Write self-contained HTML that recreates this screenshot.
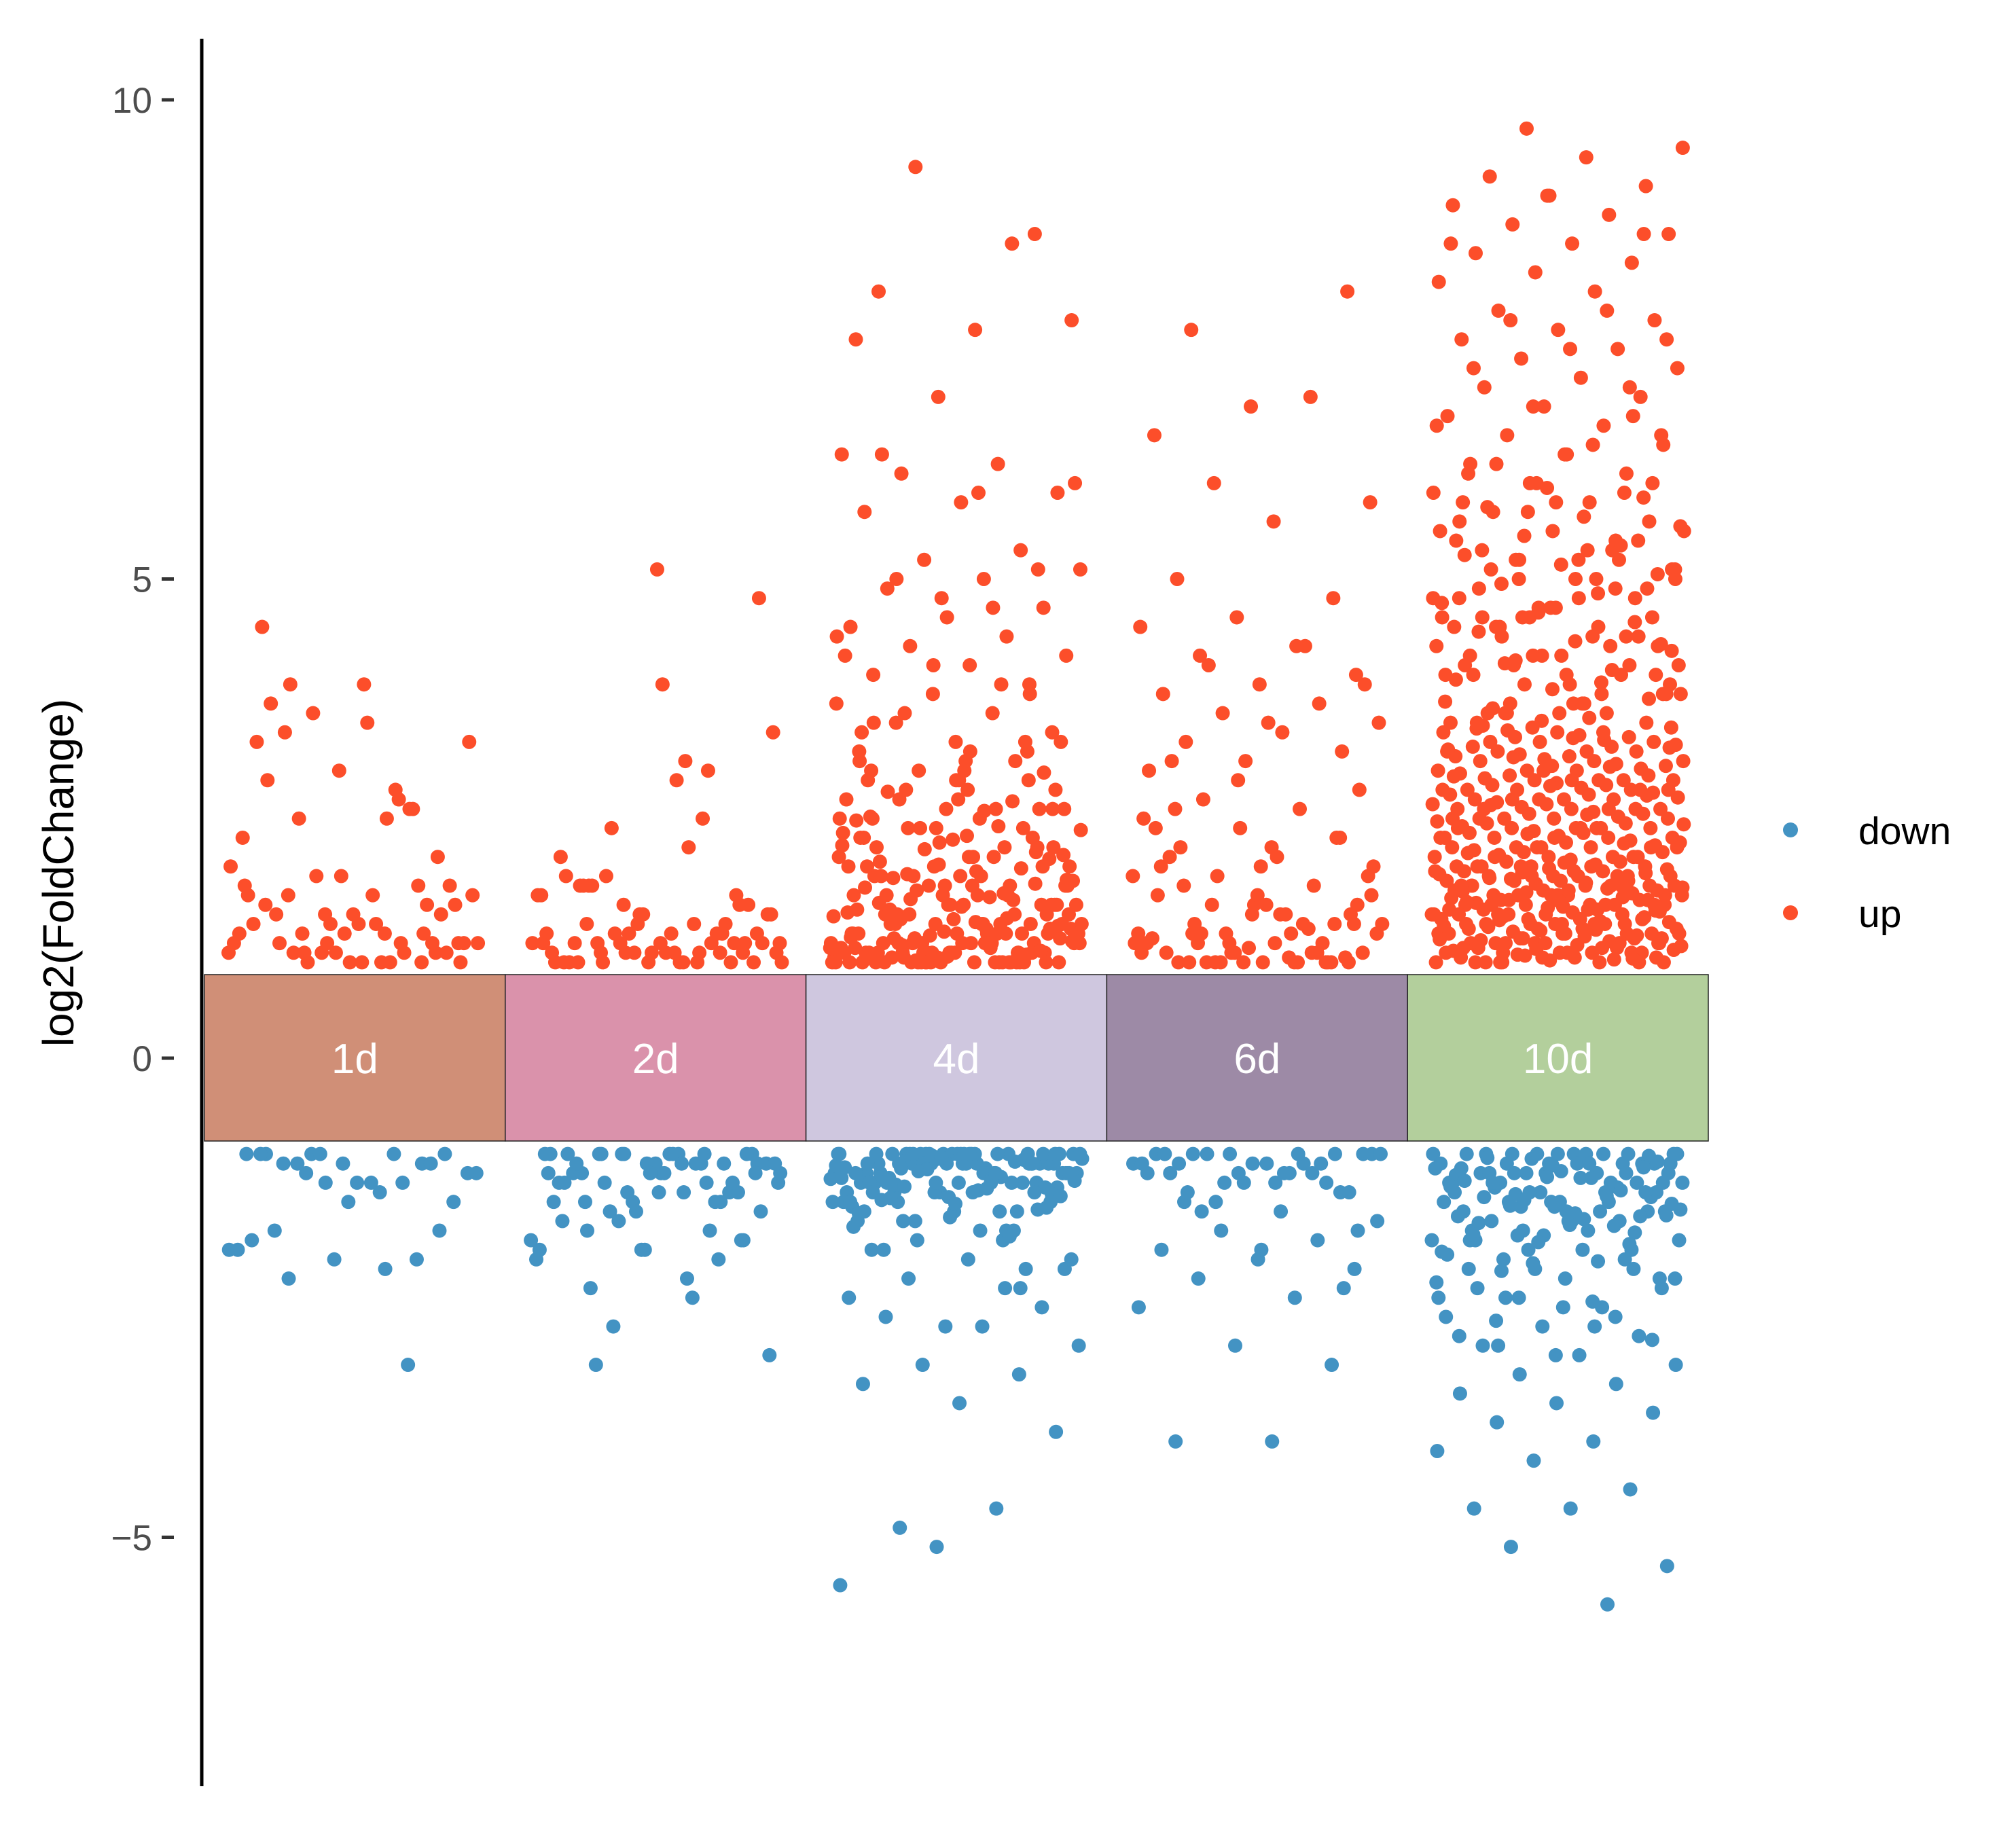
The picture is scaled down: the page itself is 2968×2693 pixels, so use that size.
<!DOCTYPE html>
<html><head><meta charset="utf-8"><style>
html,body{margin:0;padding:0;background:#fff;}
svg{display:block;font-family:"Liberation Sans",Arial,sans-serif;}
</style></head><body>
<svg id="chart" width="2968" height="2693" viewBox="0 0 2968 2693" xmlns="http://www.w3.org/2000/svg">
<rect width="2968" height="2693" fill="#fff"/>
<g id="points"></g>
<g id="boxes"></g>
<g id="axis"></g>
<text transform="translate(108,1285) rotate(-90)" text-anchor="middle" font-size="64" fill="#000">log2(FoldChange)</text>
<g>
<circle cx="2636" cy="1222" r="11" fill="#4393C3"/>
<text x="2736" y="1243" font-size="57" fill="#000">down</text>
<circle cx="2636" cy="1344" r="11" fill="#FC4E2A"/>
<text x="2736" y="1365" font-size="57" fill="#000">up</text>
</g>
</svg>
<script>
const categories = ["1d","2d","4d","6d","10d"];
const boxColors = ["#D08F77","#DA92AB","#CFC7DF","#9D8AA6","#B3CF9C"];
const yTicks = [10,5,0,-5];
const yTickLabels = ["10","5","0","\u22125"];

const up1d = [2.1,1.9,1.8,1.2,1.1,1.0,3.9,2.9,1.3,1.2,2.0,2.5,3.9,1.1,1.0,1.4,2.6,3.6,3.3,1.7,1.5,1.2,1.1,1.3,2.8,2.5,1.6,1.4,4.5,1.8,1.1,1.2,1.0,3.4,1.5,1.3,1.7,1.1,1.0,1.2,3.5,3.7,1.6,1.4,1.2,1.0,1.1,1.8,1.5,3.3,2.6,1.9,1.7,1.4,1.2,1.1,3.0,2.3,2.7,1.3,1.2,1.0,1.6,1.0,1.5,1.1,1.3,1.7];
const down1d = [-1.0,-1.1,-1.3,-2.0,-2.2,-2.3,-1.0,-1.5,-1.9,-3.2,-1.0,-1.2,-1.3,-1.8,-1.1,-2.1,-2.0,-1.0,-1.1,-1.5,-1.3,-1.0,-2.1,-1.0,-1.2,-1.4,-1.1,-1.8,-1.1,-1.0,-1.3,-1.2];
const up2d = [3.4,2.9,1.8,1.7,1.5,1.2,1.1,1.0,4.8,3.9,1.9,1.3,1.1,1.0,3.1,1.8,1.2,1.0,1.1,3.0,2.4,1.5,1.3,1.2,1.0,1.1,1.7,1.4,1.2,1.0,5.1,2.1,1.3,1.2,1.1,1.0,1.8,1.6,1.5,1.3,2.5,1.9,1.2,1.1,1.0,1.4,1.3,1.2,2.2,1.8,1.6,1.1,1.0,1.2,1.3,1.5,1.1,1.0,1.2,1.4,1.7,1.0,1.1,1.3,1.2,1.0,1.1,1.6,1.2,1.0,1.4,1.1];
const down2d = [-1.0,-1.1,-1.2,-1.3,-1.5,-1.0,-1.2,-1.4,-1.8,-1.9,-1.1,-1.0,-1.3,-1.6,-1.1,-1.0,-1.2,-1.4,-1.5,-2.1,-2.5,-3.2,-1.0,-1.1,-1.3,-1.5,-1.7,-1.1,-1.0,-1.2,-1.4,-2.0,-1.0,-1.1,-1.3,-1.6,-1.2,-1.0,-1.1,-1.4,-1.9,-2.3,-2.4,-1.0,-1.2,-1.5,-1.8,-2.8,-3.1,-1.0,-1.1,-1.3,-1.6,-2.0,-1.1,-1.0,-1.2,-1.4,-1.7,-2.1,-1.0,-1.3,-1.1,-1.5,-1.9,-2.0,-1.2,-1.0];
const up4d = [7.5,8.5,9.3,7.7,7.6,8.0,8.6,6.9,6.3,6.2,6.1,5.9,5.8,5.7,5.3,5.2,5.1,5.0,4.9,4.7,4.6,4.5,4.4,4.3,4.2,4.1,4.0,3.9,3.8,3.7,3.6,3.5,3.4,3.3,3.2,3.1,3.0,6.0,5.9,6.3,5.1,4.8,4.2,3.9,3.6,3.3,3.0,2.9,
1.0,1.1,1.2,1.3,1.4,1.5,1.6,1.7,1.8,1.9,2.0,2.1,2.2,2.3,2.4,2.5,2.6,2.7,2.8,2.9,1.0,1.1,1.2,1.3,1.4,
1.5,1.6,1.8,2.0,2.2,2.4,2.6,2.8,3.0,3.2,1.0,1.05,1.15,1.25,1.35,1.45,1.55,1.65,1.75,1.85,1.95,2.05,2.15,2.25,2.35,
1.0,1.1,1.0,1.2,1.1,1.3,1.0,1.4,1.2,1.5,1.1,1.6,1.3,1.7,1.0,1.8,1.2,1.9,1.4,2.0,1.1,2.1,1.5,2.2,1.3,
2.3,1.0,2.4,1.6,2.5,1.2,2.6,1.7,2.7,1.0,2.8,1.4,3.1,1.1,3.3,1.8,1.0,1.2,1.05,1.3,1.1,1.15,1.0,1.25,1.35,
1.0,1.1,1.2,1.05,1.15,1.3,1.45,1.6,1.9,2.3,1.0,1.1,1.2,1.4,1.7,2.0,2.6,1.0,1.3,1.5,1.8,2.1,2.5,2.9,1.1,
1.0,1.2,1.4,1.6,1.1,1.3,1.5,1.0,1.2,1.7,1.9,2.2,1.0,1.1,1.4,1.05,1.25,1.6,2.0,2.4,1.0,1.15,1.35,1.55,1.0,
1.1,1.3,1.0,1.2,1.5,1.8,1.0,1.1,1.4,2.1,1.0,1.2,1.6,2.7,3.4,1.1,1.0,1.3,1.9,1.0,
1.12,1.32,1.52,1.72,1.92,2.12,2.32,2.52,1.08,1.28,1.48,1.68,1.88,2.08,2.28,2.48,2.68,1.02,1.22,1.42,1.62,1.82,2.02,2.22,2.42,
1.18,1.38,1.58,1.78,1.98,2.18,2.38,2.58,2.78,2.98,1.06,1.26,1.46,1.66,1.86,3.2,3.5,3.8,4.1,4.4,4.7,5.0,2.6,2.9,3.1];
const down4d = [-5.1,-5.5,-4.7,-4.9,-3.9,-3.6,-3.4,-3.3,-3.2,-3.0,-2.8,-2.7,-2.6,-2.8,-2.5,-2.4,-2.3,-2.2,-2.1,-2.0,
-1.0,-1.1,-1.2,-1.3,-1.4,-1.5,-1.6,-1.7,-1.8,-1.9,-1.0,-1.1,-1.2,-1.3,-1.4,-1.5,-1.6,-1.7,-1.0,-1.1,
-1.2,-1.3,-1.0,-1.05,-1.15,-1.25,-1.35,-1.45,-1.55,-1.0,-1.1,-1.2,-1.0,-1.3,-1.1,-1.4,-1.0,-1.2,-1.5,-1.1,
-1.0,-1.3,-1.6,-1.0,-1.2,-1.8,-2.0,-1.1,-1.0,-1.4,-1.9,-1.0,-1.2,-1.1,-1.3,-2.2,-1.0,-1.5,-1.2,-1.0,
-1.1,-1.0,-1.2,-1.3,-1.7,-2.1,-1.0,-1.1,-1.4,-1.05,-1.25,-1.0,-1.15,-1.35,-1.0,-1.6,-2.4,-1.1,-1.0,-1.2,
-1.3,-1.0,-1.1,-1.5,-1.8,-1.0,-1.2,-1.0,-1.4,-1.1,
-1.02,-1.12,-1.22,-1.32,-1.42,-1.52,-1.62,-1.08,-1.18,-1.28,-1.38,-1.48,-1.58,-1.04,-1.14,-1.24,-1.34,-1.44,-1.0,-1.1,
-1.06,-1.16,-1.26,-1.36,-1.46,-1.56,-1.66,-1.76,-1.86,-1.0,-1.2,-1.4,-1.0,-1.1,-1.3,-1.0,-1.2,-1.1,-1.0,-1.3];
const up6d = [7.6,8.0,6.8,6.5,6.9,6.0,5.8,5.6,5.0,4.8,4.6,4.5,4.3,4.2,4.0,3.9,3.8,3.7,3.6,3.5,3.4,3.3,3.2,3.1,3.0,4.3,4.1,3.9,3.5,3.1,
1.0,1.1,1.2,1.3,1.4,1.5,1.6,1.7,1.8,1.9,2.0,2.1,2.2,2.3,2.4,2.5,2.6,2.7,2.8,1.0,1.1,1.2,1.3,1.4,1.5,
1.0,1.05,1.15,1.25,1.35,1.6,1.9,2.2,2.6,1.0,1.1,1.3,1.0,1.2,1.4,1.7,2.0,1.1,1.0,1.3,1.5,1.8,2.3,1.0,1.2,
1.4,1.0,1.1,1.6,2.1,1.0,1.2,1.9,1.05,1.3,1.0,1.5,2.4,1.1,1.0,1.7,1.2,1.0,1.4,2.9,1.1,1.0,1.3,1.6,2.0];
const down6d = [-4.0,-4.0,-3.2,-3.0,-2.6,-2.5,-2.3,-2.2,-2.1,-2.0,-1.9,-1.8,-1.7,-1.6,-1.5,-1.4,-1.3,-1.2,-1.1,-1.0,
-1.0,-1.1,-1.2,-1.3,-1.0,-1.1,-1.2,-1.0,-1.4,-1.1,-1.0,-1.2,-1.5,-1.0,-1.3,-1.1,-1.0,-1.2,-1.1,-1.0,
-1.6,-1.8,-2.0,-1.0,-1.1,-1.3,-1.0,-1.2,-1.4,-2.4];
const up10d = [9.7,9.5,9.4,9.2,9.1,9.0,8.9,8.8,8.7,8.6,8.5,8.4,8.3,8.2,8.1,8.0,7.8,7.7,7.6,7.5,7.4,7.3,7.2,7.1,7.0,6.9,6.8,6.7,6.6,6.5,
6.4,6.3,6.2,6.1,6.0,5.9,5.8,5.7,5.6,5.5,5.4,5.3,5.2,5.1,5.0,4.9,4.8,4.7,4.6,4.5,4.4,4.3,4.2,4.1,4.0,3.9,3.8,3.7,3.6,
8.6,9.0,8.5,7.8,7.7,7.5,7.4,7.2,7.0,6.8,6.6,6.4,6.2,6.0,5.8,5.6,5.4,5.2,5.0,4.8,4.6,4.4,4.2,4.0,3.8,3.6,
6.5,6.3,6.1,5.9,5.7,5.5,5.3,5.1,4.9,4.7,4.5,4.3,4.1,3.9,3.7,3.5,6.7,6.0,5.5,5.0,4.5,4.0,3.6,5.8,5.2,4.6,4.1,3.7,
1.0,1.1,1.2,1.3,1.4,1.5,1.6,1.7,1.8,1.9,2.0,2.1,2.2,2.3,2.4,2.5,2.6,2.7,2.8,2.9,3.0,3.1,3.2,3.3,3.4,
1.0,1.1,1.2,1.3,1.4,1.5,1.6,1.7,1.8,1.9,2.0,2.1,2.2,2.3,2.4,2.5,2.6,2.7,2.8,2.9,3.0,3.1,3.2,3.3,3.4,
1.05,1.15,1.25,1.35,1.45,1.55,1.65,1.75,1.85,1.95,2.05,2.15,2.25,2.35,2.45,2.55,2.65,2.75,2.85,2.95,3.05,3.15,3.25,3.35,3.45,
1.05,1.15,1.25,1.35,1.45,1.55,1.65,1.75,1.85,1.95,2.05,2.15,2.25,2.35,2.45,2.55,2.65,2.75,2.85,2.95,3.05,3.15,3.25,3.35,3.45,
1.0,1.1,1.2,1.3,1.4,1.5,1.6,1.7,1.8,1.9,2.0,2.1,2.2,2.3,2.4,2.5,2.6,2.7,2.8,2.9,3.0,3.1,3.2,3.3,3.5,
1.02,1.12,1.22,1.32,1.42,1.52,1.62,1.72,1.82,1.92,2.02,2.12,2.22,2.32,2.42,2.52,2.62,2.72,2.82,2.92,3.02,3.12,3.22,3.32,3.42,
1.0,1.1,1.2,1.3,1.4,1.5,1.6,1.7,1.8,1.9,2.0,2.1,2.2,2.3,2.4,2.5,2.6,2.7,2.8,2.9,1.0,1.2,1.4,1.6,1.8,
1.07,1.17,1.27,1.37,1.47,1.57,1.67,1.77,1.87,1.97,2.07,2.17,2.27,2.37,2.47,2.57,2.67,2.77,2.87,2.97,3.07,3.17,3.27,3.37,3.47,
1.0,1.05,1.1,1.15,1.2,1.25,1.3,1.35,1.4,1.45,1.5,1.55,1.6,1.65,1.7,1.75,1.8,1.85,1.9,1.95,2.0,2.1,2.2,2.3,2.4,
1.0,1.05,1.1,1.15,1.2,1.25,1.3,1.35,1.4,1.45,1.5,1.55,1.6,1.65,1.7,1.75,1.8,1.85,1.9,1.95,2.0,2.1,2.2,2.3,2.4,
1.03,1.08,1.13,1.18,1.23,1.28,1.33,1.38,1.43,1.48,1.53,1.58,1.63,1.68,1.73,1.78,1.83,1.88,1.93,1.98,2.5,2.6,2.7,2.8,2.9,
1.0,1.1,1.2,1.3,1.4,1.5,1.6,1.7,1.8,1.9,2.0,2.2,2.4,2.6,2.8,3.0,3.2,3.4,3.6,3.8,4.0,4.2,4.4,4.6,4.8,
3.55,3.65,3.75,3.85,3.95,4.05,4.15,4.25,4.35,4.45,4.55,4.65,4.75,4.85,4.95,5.05,5.15,5.25,5.35,5.45,5.55,5.65,5.75,5.85,5.95,
3.5,3.6,3.7,3.8,3.9,4.0,4.1,4.2,4.3,4.4,4.5,4.6,4.7,4.8,4.9,5.0,5.1,5.2,5.3,5.4,3.52,3.72,3.92,4.12,4.32,
2.04,2.14,2.24,2.34,2.44,2.54,2.64,2.74,2.84,2.94,3.04,3.14,3.24,3.34,3.44,1.04,1.14,1.24,1.34,1.44,1.54,1.64,1.74,1.84,1.94];
const down10d = [-5.7,-5.1,-5.3,-4.7,-4.7,-4.5,-4.2,-4.1,-4.0,-3.8,-3.7,-3.6,-3.5,-3.4,-3.3,-3.2,-3.1,-3.0,-2.9,-2.8,
-2.7,-2.6,-2.5,-2.4,-2.3,-2.2,-2.1,-2.0,-1.9,-1.8,-1.7,-1.6,-1.5,-1.4,-1.3,-1.2,-1.1,-1.0,-2.4,-2.2,
-1.0,-1.1,-1.2,-1.3,-1.4,-1.5,-1.6,-1.7,-1.8,-1.9,-2.0,-1.0,-1.1,-1.2,-1.3,-1.4,-1.5,-1.6,-1.7,-1.8,
-1.0,-1.05,-1.15,-1.25,-1.35,-1.45,-1.55,-1.65,-1.75,-1.85,-1.0,-1.1,-1.2,-1.3,-1.4,-1.5,-1.6,-2.1,-2.3,-2.6,
-1.0,-1.1,-1.2,-1.3,-1.0,-1.2,-1.4,-1.1,-1.3,-1.5,-1.0,-1.2,-1.7,-1.9,-2.0,-2.2,-2.5,-2.8,-3.0,-1.1,
-1.0,-1.15,-1.35,-1.55,-1.0,-1.25,-1.45,-1.65,-1.85,-2.05,-1.0,-1.1,-1.3,-1.6,-1.9,-1.2,-1.4,-1.0,-1.1,-1.3,
-1.02,-1.12,-1.22,-1.32,-1.42,-1.52,-1.62,-1.72,-1.82,-1.92,-2.02,-2.12,-2.22,-1.08,-1.18,-1.28,-1.38,-1.48,-1.58,-1.68,
-1.04,-1.14,-1.24,-1.34,-1.44,-1.54,-1.64,-1.74,-1.84,-1.94,-2.14,-2.34,-2.54,-2.74,-2.94,-3.1,-2.9,-2.7,-2.5,-2.3];

const upSeries = [up1d, up2d, up4d, up6d, up10d];
const downSeries = [down1d, down2d, down4d, down6d, down10d];

const NS = "http://www.w3.org/2000/svg";
const plotLeft = 301, bandW = 442.8;
function yScale(v){ return 1558 - v * 141.1; }
function xBand(i){ return plotLeft + i * bandW; }
// deterministic low-discrepancy jitter placement within a band
function xJitter(i, k, seed){ const f = ((k + 1) * 0.6180339887 + seed) % 1; return xBand(i) + bandW * (0.08 + 0.84 * f); }

const pts = document.getElementById('points');
function drawSeries(series, color, name, seed){
  series.forEach(function(vals, i){
    vals.forEach(function(v, k){
      const c = document.createElementNS(NS, 'circle');
      c.setAttribute('cx', xJitter(i, k, seed + i * 0.137));
      c.setAttribute('cy', yScale(v));
      c.setAttribute('r', 10.5);
      c.setAttribute('fill', color);
      
      
      pts.appendChild(c);
    });
  });
}
drawSeries(upSeries, '#FC4E2A', 'up', 0.21);
drawSeries(downSeries, '#4393C3', 'down', 0.53);

const boxes = document.getElementById('boxes');
categories.forEach(function(cat, i){
  const r = document.createElementNS(NS, 'rect');
  r.setAttribute('x', xBand(i)); r.setAttribute('y', 1435);
  r.setAttribute('width', bandW); r.setAttribute('height', 245);
  r.setAttribute('fill', boxColors[i]); r.setAttribute('stroke', '#222'); r.setAttribute('stroke-width', 1.5);
  
  
  boxes.appendChild(r);
  const t = document.createElementNS(NS, 'text');
  t.setAttribute('x', xBand(i) + bandW / 2); t.setAttribute('y', 1580);
  t.setAttribute('text-anchor', 'middle'); t.setAttribute('font-size', 62); t.setAttribute('fill', '#fff');
  t.textContent = cat;
  
  
  boxes.appendChild(t);
});

const axis = document.getElementById('axis');
const line = document.createElementNS(NS, 'line');
line.setAttribute('x1', 297); line.setAttribute('x2', 297); line.setAttribute('y1', 57); line.setAttribute('y2', 2630);
line.setAttribute('stroke', '#000'); line.setAttribute('stroke-width', 5);


axis.appendChild(line);
yTicks.forEach(function(v, j){
  const tk = document.createElementNS(NS, 'line');
  tk.setAttribute('x1', 238); tk.setAttribute('x2', 256);
  tk.setAttribute('y1', yScale(v)); tk.setAttribute('y2', yScale(v));
  tk.setAttribute('stroke', '#333'); tk.setAttribute('stroke-width', 5);
  
  
  axis.appendChild(tk);
  const lb = document.createElementNS(NS, 'text');
  lb.setAttribute('x', 224); lb.setAttribute('y', yScale(v) + 19);
  lb.setAttribute('text-anchor', 'end'); lb.setAttribute('font-size', 53); lb.setAttribute('fill', '#4d4d4d');
  lb.textContent = yTickLabels[j];
  
  
  axis.appendChild(lb);
});
</script>
</body></html>
